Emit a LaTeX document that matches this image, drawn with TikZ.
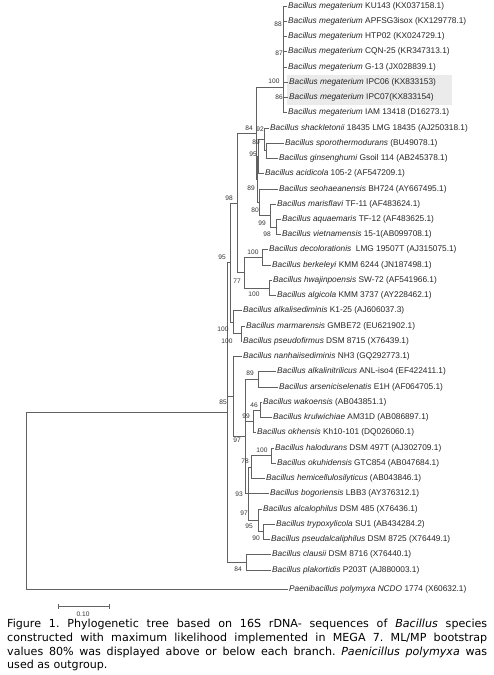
\documentclass[tikz,border=0pt]{standalone}
\usepackage{fontspec}
\newfontfamily\treefont{Liberation Sans}
\newfontfamily\capfont{DejaVu Sans}
\begin{document}
\begin{tikzpicture}[x=1pt,y=-1pt,
  br/.style={draw=black!62,line width=0.7pt},
  leaf/.style={anchor=west,inner sep=0pt,text=black!85,font=\treefont\fontsize{8.3}{10}\selectfont},
  bs/.style={inner sep=0pt,text=black!80,font=\treefont\fontsize{6.6}{8}\selectfont},
  hl/.style={fill=black!8,draw=none}]
\useasboundingbox (0,0) rectangle (493,675);
\fill[white] (0,0) rectangle (493,675);
% highlight
\path[hl] (287,75) rectangle (452,105);
% leaves
\node[leaf] (L1) at (288,6.00) {\textit{Bacillus megaterium} KU143 (KX037158.1)};
\node[leaf] (L2) at (288,21.24) {\textit{Bacillus megaterium} APFSG3isox (KX129778.1)};
\node[leaf] (L3) at (288,36.48) {\textit{Bacillus megaterium} HTP02 (KX024729.1)};
\node[leaf] (L4) at (288,51.72) {\textit{Bacillus megaterium} CQN-25 (KR347313.1)};
\node[leaf] (L5) at (288,66.96) {\textit{Bacillus megaterium} G-13 (JX028839.1)};
\node[leaf] (L6) at (289,82.20) {\textit{Bacillus megaterium} IPC06 (KX833153)};
\node[leaf] (L7) at (289,97.44) {\textit{Bacillus megaterium} IPC07(KX833154)};
\node[leaf] (L8) at (288,112.68) {\textit{Bacillus megaterium} IAM 13418 (D16273.1)};
\node[leaf] (L9) at (270,127.92) {\textit{Bacillus shackletonii} 18435 LMG 18435 (AJ250318.1)};
\node[leaf] (L10) at (285,143.16) {\textit{Bacillus sporothermodurans} (BU49078.1)};
\node[leaf] (L11) at (279,158.40) {\textit{Bacillus ginsenghumi} Gsoil 114 (AB245378.1)};
\node[leaf] (L12) at (265,173.64) {\textit{Bacillus acidicola} 105-2 (AF547209.1)};
\node[leaf] (L13) at (279,188.88) {\textit{Bacillus seohaeanensis} BH724 (AY667495.1)};
\node[leaf] (L14) at (277,204.12) {\textit{Bacillus marisflavi} TF-11 (AF483624.1)};
\node[leaf] (L15) at (282,219.36) {\textit{Bacillus aquaemaris} TF-12 (AF483625.1)};
\node[leaf] (L16) at (282,234.60) {\textit{Bacillus vietnamensis} 15-1(AB099708.1)};
\node[leaf] (L17) at (269,249.84) {\textit{Bacillus decolorationis}\ \ LMG 19507T (AJ315075.1)};
\node[leaf] (L18) at (272,265.08) {\textit{Bacillus berkeleyi} KMM 6244 (JN187498.1)};
\node[leaf] (L19) at (273,280.32) {\textit{Bacillus hwajinpoensis} SW-72 (AF541966.1)};
\node[leaf] (L20) at (277,295.56) {\textit{Bacillus algicola} KMM 3737 (AY228462.1)};
\node[leaf] (L21) at (243,310.80) {\textit{Bacillus alkalisediminis} K1-25 (AJ606037.3)};
\node[leaf] (L22) at (246,326.04) {\textit{Bacillus marmarensis} GMBE72 (EU621902.1)};
\node[leaf] (L23) at (243,341.28) {\textit{Bacillus pseudofirmus} DSM 8715 (X76439.1)};
\node[leaf] (L24) at (243,356.52) {\textit{Bacillus nanhaiisediminis} NH3 (GQ292773.1)};
\node[leaf] (L25) at (277,371.76) {\textit{Bacillus alkalinitrilicus} ANL-iso4 (EF422411.1)};
\node[leaf] (L26) at (279,387.00) {\textit{Bacillus arseniciselenatis} E1H (AF064705.1)};
\node[leaf] (L27) at (263,402.24) {\textit{Bacillus wakoensis} (AB043851.1)};
\node[leaf] (L28) at (273,417.48) {\textit{Bacillus krulwichiae} AM31D (AB086897.1)};
\node[leaf] (L29) at (257,432.72) {\textit{Bacillus okhensis} Kh10-101 (DQ026060.1)};
\node[leaf] (L30) at (275,447.96) {\textit{Bacillus halodurans} DSM 497T (AJ302709.1)};
\node[leaf] (L31) at (277,463.20) {\textit{Bacillus okuhidensis} GTC854 (AB047684.1)};
\node[leaf] (L32) at (266,478.44) {\textit{Bacillus hemicellulosilyticus} (AB043846.1)};
\node[leaf] (L33) at (270,493.68) {\textit{Bacillus bogoriensis} LBB3 (AY376312.1)};
\node[leaf] (L34) at (263,508.92) {\textit{Bacillus alcalophilus} DSM 485 (X76436.1)};
\node[leaf] (L35) at (276,524.16) {\textit{Bacillus trypoxylicola} SU1 (AB434284.2)};
\node[leaf] (L36) at (271,539.40) {\textit{Bacillus pseudalcaliphilus} DSM 8725 (X76449.1)};
\node[leaf] (L37) at (272,554.64) {\textit{Bacillus clausii} DSM 8716 (X76440.1)};
\node[leaf] (L38) at (272,569.88) {\textit{Bacillus plakortidis} P203T (AJ880003.1)};
\node[leaf] (L39) at (289,589.00) {\textit{Paenibacillus polymyxa NCDO} 1774 (X60632.1)};
% internal nodes
\coordinate (R) at (26,500.7);
\coordinate (NI) at (227,412.43);
\coordinate (N95) at (230,262.59);
\coordinate (N98) at (237,202.94);
\coordinate (N84) at (256,133.18);
\coordinate (Nmeg) at (283,87);
\coordinate (NY) at (257,179.36);
\coordinate (N95a) at (258,156.50);
\coordinate (N92) at (264,139.35);
\coordinate (N89a) at (266,150.78);
\coordinate (N89s) at (259,202.22);
\coordinate (N80) at (270,215.55);
\coordinate (N99a) at (276,226.98);
\coordinate (N77) at (244,272.70);
\coordinate (N100a) at (262,257.46);
\coordinate (N100b) at (269,287.94);
\coordinate (Nalk) at (233,322.23);
\coordinate (N100m) at (241,333.66);
\coordinate (N85) at (233,396.53);
\coordinate (N97) at (245,436.53);
\coordinate (N89b) at (258,379.38);
\coordinate (N99w) at (253,421.29);
\coordinate (N46) at (260,409.86);
\coordinate (N93) at (248,493.68);
\coordinate (N78) at (251,467.01);
\coordinate (N100h) at (271,455.58);
\coordinate (N97c) at (258,520.35);
\coordinate (N95c) at (263,531.78);
\coordinate (N84b) at (246,562.26);
% internal branches
\foreach \p/\c in {R/NI,NI/N95,NI/N85,NI/N84b,N95/N98,N95/Nalk,N98/N84,N98/N77,
  N84/Nmeg,N84/NY,NY/N95a,NY/N89s,N95a/N92,N92/N89a,N89s/N80,N80/N99a,
  N77/N100a,N77/N100b,Nalk/N100m,N85/N97,N97/N89b,N97/N99w,N97/N93,
  N99w/N46,N93/N78,N93/N97c,N78/N100h,N97c/N95c}
  \draw[br] (\p) |- (\c);
% leaf branches
\foreach \p/\c in {R/L39,Nmeg/L1,Nmeg/L2,Nmeg/L3,Nmeg/L4,Nmeg/L5,Nmeg/L6,Nmeg/L7,Nmeg/L8,
  N92/L9,N89a/L10,N89a/L11,N95a/L12,N89s/L13,N80/L14,N99a/L15,N99a/L16,
  N100a/L17,N100a/L18,N100b/L19,N100b/L20,Nalk/L21,N100m/L22,N100m/L23,
  N85/L24,N89b/L25,N89b/L26,N46/L27,N46/L28,N99w/L29,N100h/L30,N100h/L31,
  N78/L32,N93/L33,N97c/L34,N95c/L35,N95c/L36,N84b/L37,N84b/L38}
  \draw[br] (\p) |- ([xshift=-1.5pt]\c.west);
% bootstrap values
\node[bs] (b1) at (278,24) {88};
\node[bs] (b2) at (279,53) {87};
\node[bs] (b3) at (274,81) {100};
\node[bs] (b4) at (279,97) {86};
\node[bs] (b5) at (249,128) {84};
\node[bs] (b6) at (260,129) {92};
\node[bs] (b7) at (256,142) {89};
\node[bs] (b8) at (253,154) {95};
\node[bs] (b9) at (251,188) {89};
\node[bs] (b10) at (255,210) {80};
\node[bs] (b11) at (229,198) {98};
\node[bs] (b12) at (262,223) {99};
\node[bs] (b13) at (267,234) {98};
\node[bs] (b14) at (222,257) {95};
\node[bs] (b15) at (253,252) {100};
\node[bs] (b16) at (237,281) {77};
\node[bs] (b17) at (254,294) {100};
\node[bs] (b18) at (223,329) {100};
\node[bs] (b19) at (227,341) {100};
\node[bs] (b20) at (250,373) {89};
\node[bs] (b21) at (223,402) {85};
\node[bs] (b22) at (254,405) {46};
\node[bs] (b23) at (246,416) {99};
\node[bs] (b24) at (237,440) {97};
\node[bs] (b25) at (262,450) {100};
\node[bs] (b26) at (245,461) {78};
\node[bs] (b27) at (239,494) {93};
\node[bs] (b28) at (244,513) {97};
\node[bs] (b29) at (249,526) {95};
\node[bs] (b30) at (256,538) {90};
\node[bs] (b31) at (238,569) {84};
% scale bar
\coordinate (s1) at (58,606);
\coordinate (s2) at (109,606);
\draw[br] (s1) -- (s2);
\draw[br] ([yshift=-2.5pt]s1) -- ([yshift=2.5pt]s1);
\draw[br] ([yshift=-2.5pt]s2) -- ([yshift=2.5pt]s2);
\node[bs] (sl) at (83,614) {0.10};
% caption
\node[anchor=north west,inner sep=0pt,text width=480pt,align=justify,
  font=\capfont\fontsize{11.1}{13.7}\selectfont] (cap) at (7,619)
 {\frenchspacing Figure 1. Phylogenetic tree based on 16S rDNA- sequences of \textit{Bacillus} species\linebreak
 constructed with maximum likelihood implemented in MEGA 7. ML/MP bootstrap\linebreak
 values 80\% was displayed above or below each branch. \textit{Paenicillus polymyxa} was\linebreak
 used as outgroup.};
\end{tikzpicture}
\end{document}
